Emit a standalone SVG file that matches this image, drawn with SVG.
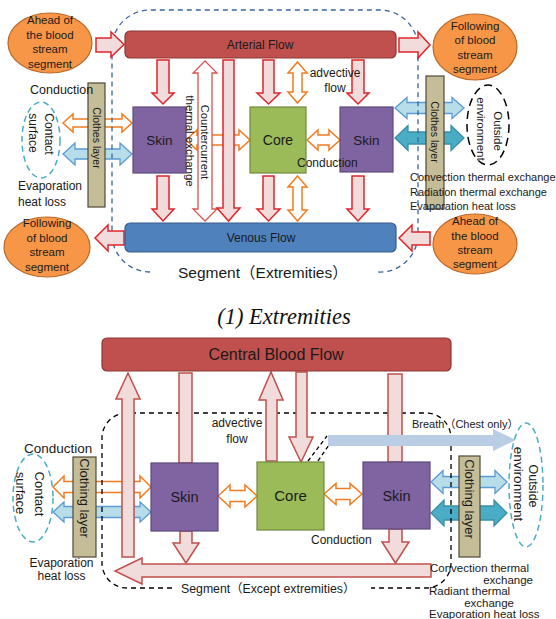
<svg xmlns="http://www.w3.org/2000/svg" width="556" height="619" viewBox="0 0 556 619">
<style>
.pk{fill:#f2dcdb;stroke:#e0242b;stroke-width:1.5}
.pk2{fill:#f2dcdb;stroke:#c0504d;stroke-width:1.5}
.or{fill:#fff;stroke:#f47c20;stroke-width:1.5}
.lb{fill:#b7dee8;stroke:#5b9bd5;stroke-width:1.3}
.tl{fill:#4bacc6;stroke:#3a8fa8;stroke-width:1.3}
.el{fill:#f79646;stroke:#b9692a;stroke-width:1.2}
.red{fill:#c0504d;stroke:#8c3836;stroke-width:1.2}
.blu{fill:#4f81bd;stroke:#385d8a;stroke-width:1.2}
.skin{fill:#8064a2;stroke:#5c4a7a;stroke-width:1.2}
.core{fill:#9bbb59;stroke:#71893f;stroke-width:1.2}
.cl{fill:#c4bd97;stroke:#4f4a38;stroke-width:1.2}
.t{font-family:"Liberation Sans",Arial,"Noto Sans CJK SC",sans-serif;fill:#1a1a1a}
.m{text-anchor:middle}
.e{text-anchor:end}
.r{text-anchor:middle;dominant-baseline:central}
</style>
<g id="connectors">
  <polygon class="or" points="63,123 73,114 73,119 122,119 122,114 132,123 122,132 122,127 73,127 73,132"/>
  <polygon class="lb" points="63,154 75,143 75,149 120,149 120,143 132,154 120,165 120,159 75,159 75,165"/>
  <polygon class="or" points="186,140 197,130 197,135 239,135 239,130 250,140 239,150 239,145 197,145 197,150"/>
  <polygon class="or" points="307,140 318,130 318,135 329,135 329,130 340,140 329,150 329,145 318,145 318,150"/>
  <polygon class="lb" points="395,108 407,97.5 407,102.5 452,102.5 452,97.5 464,108 452,118.5 452,113.5 407,113.5 407,118.5"/>
  <polygon class="tl" points="395,138 408,125.5 408,132 451,132 451,125.5 464,138 451,150.5 451,144 408,144 408,150.5"/>
  <polygon class="or" points="53,487 64,476 64,481.5 140,481.5 140,476 151,487 140,498 140,492.5 64,492.5 64,498"/>
  <polygon class="lb" points="53,512 64,502 64,506.5 140,506.5 140,502 151,512 140,522 140,517.5 64,517.5 64,522"/>
  <polygon class="or" points="218,496 230,485 230,490.5 245,490.5 245,485 257,496 245,507 245,501.5 230,501.5 230,507"/>
  <polygon class="or" points="324,494 336,483.5 336,488.5 350,488.5 350,483.5 362,494 350,504.5 350,499.5 336,499.5 336,504.5"/>
  <polygon class="lb" points="431,482 443,470.5 443,476.5 495,476.5 495,470.5 507,482 495,493.5 495,487.5 443,487.5 443,493.5"/>
  <polygon class="tl" points="431,513 444,500 444,506 494,506 494,500 507,513 494,526 494,520 444,520 444,526"/>
  <path d="M150,272 A38,38 0 0 1 112,234 L112,48 A38,38 0 0 1 150,10 L380,10 A38,38 0 0 1 418,48 L418,234 A38,38 0 0 1 378,272" fill="none" stroke="#3a64a0" stroke-width="1.3" stroke-dasharray="5 4"/>
  <path d="M172,588 L127,588 A25,25 0 0 1 102,563 L102,438 A25,25 0 0 1 127,413 L426,413 A25,25 0 0 1 451,438 L451,563 A25,25 0 0 1 426,588 L371,588" fill="none" stroke="#000" stroke-width="1.3" stroke-dasharray="5 4"/>
  <line x1="308" y1="461" x2="327" y2="436" stroke="#000" stroke-width="1.3" stroke-dasharray="4 3"/>
  <line x1="318" y1="461" x2="331" y2="442" stroke="#000" stroke-width="1.3" stroke-dasharray="4 3"/>
  <polygon class="pk" points="96,38 111,38 111,32 124,44.5 111,57 111,52 96,52"/>
  <polygon class="pk" points="399,38 418,38 418,32 430,45 418,58 418,52 399,52"/>
  <polygon class="pk" points="124,231 108,231 108,225 95,238 108,251 108,245 124,245"/>
  <polygon class="pk" points="430,232 412,232 412,225 399,238 412,251 412,245 430,245"/>
  <polygon class="pk" points="157,60 169,60 169,93 174,93 163,104 152,93 157,93"/>
  <polygon class="pk" points="263,60 274,60 274,93 280,93 268.5,104 257,93 263,93"/>
  <polygon class="pk" points="352,60 364,60 364,93 369,93 358,104 347,93 352,93"/>
  <polygon class="pk" points="157,176 169,176 169,209 174,209 163,221 152,209 157,209"/>
  <polygon class="pk" points="263,176 274,176 274,209 280,209 268.5,221 257,209 263,209"/>
  <polygon class="pk" points="352,176 364,176 364,209 369,209 358,221 347,209 352,209"/>
  <polygon points="205,61 217,73 212,73 212,209 217,209 205,221 193,209 198,209 198,73 193,73" fill="#fff" stroke="#d9534f" stroke-width="1.3"/>
  <polygon class="pk" points="223,60 234,60 234,208 240,208 228.5,221 217,208 223,208"/>
  <polygon class="or" points="297.5,62 307,73 302,73 302,92 307,92 297.5,103 288,92 293,92 293,73 288,73"/>
  <polygon class="or" points="297.5,176 307,187 302,187 302,210 307,210 297.5,221 288,210 293,210 293,187 288,187"/>
  <polygon class="pk2" points="122,557 134,557 134,399 140,399 128,373 116,399 122,399"/>
  <rect class="pk2" x="179" y="373" width="13" height="90"/>
  <polygon class="pk2" points="180,531 192,531 192,543 199,543 186,563 173,543 180,543"/>
  <polygon class="pk2" points="266,461 277,461 277,400 283,400 271,372 259,400 266,400"/>
  <polygon class="pk2" points="296,372 307,372 307,437 313,437 301,462 289,437 296,437"/>
  <rect class="pk2" x="388" y="374" width="14" height="88"/>
  <polygon class="pk2" points="389,529 402,529 402,542 409,542 395.5,563 382,542 389,542"/>
  <polygon class="pk2" points="431,564 142,564 142,558 115,571 142,584 142,577 431,577"/>
  <polygon points="328,435 493,435 493,429 516,440 493,451 493,446 328,446" fill="#b9cde5"/>
</g>
<g id="ellipse-ahead-top">
  <ellipse class="el" cx="50" cy="43" rx="42" ry="30"/>
  <text class="t m" font-size="11.5" x="50" y="24">Ahead of</text>
  <text class="t m" font-size="11.5" x="50" y="39">the blood</text>
  <text class="t m" font-size="11.5" x="50" y="53">stream</text>
  <text class="t m" font-size="11.5" x="50" y="68">segment</text>
</g>
<g id="ellipse-following-top">
  <ellipse class="el" cx="475" cy="47" rx="42" ry="33"/>
  <text class="t m" font-size="11.5" x="475" y="30">Following</text>
  <text class="t m" font-size="11.5" x="475" y="44">of blood</text>
  <text class="t m" font-size="11.5" x="475" y="59">stream</text>
  <text class="t m" font-size="11.5" x="475" y="73">segment</text>
</g>
<g id="ellipse-following-bottom">
  <ellipse class="el" cx="47" cy="247" rx="43" ry="30"/>
  <text class="t m" font-size="11.5" x="47" y="227">Following</text>
  <text class="t m" font-size="11.5" x="47" y="242">of blood</text>
  <text class="t m" font-size="11.5" x="47" y="256">stream</text>
  <text class="t m" font-size="11.5" x="47" y="271">segment</text>
</g>
<g id="ellipse-ahead-bottom">
  <ellipse class="el" cx="475" cy="244" rx="42" ry="30"/>
  <text class="t m" font-size="11.5" x="475" y="225">Ahead of</text>
  <text class="t m" font-size="11.5" x="475" y="240">the blood</text>
  <text class="t m" font-size="11.5" x="475" y="254">stream</text>
  <text class="t m" font-size="11.5" x="475" y="268">segment</text>
</g>
<g id="arterial">
  <rect class="red" x="125" y="31" width="271" height="27" rx="5"/>
  <text class="t m" font-size="12" x="260" y="48.5">Arterial Flow</text>
</g>
<g id="venous">
  <rect class="blu" x="125" y="223" width="271" height="29" rx="5"/>
  <text class="t m" font-size="12" x="261" y="241.7">Venous Flow</text>
</g>
<g id="skin-top-left">
  <rect class="skin" x="133" y="107" width="53" height="66"/>
  <text class="t m" font-size="13.5" x="159.5" y="145">Skin</text>
</g>
<g id="core-top">
  <rect class="core" x="250" y="107" width="56" height="66"/>
  <text class="t m" font-size="14" x="278" y="145">Core</text>
</g>
<g id="skin-top-right">
  <rect class="skin" x="340" y="107" width="53" height="65"/>
  <text class="t m" font-size="13.5" x="366.5" y="145">Skin</text>
</g>
<g id="clothes-top-left">
  <rect class="cl" x="88" y="83" width="17" height="124"/>
  <text class="t r" font-size="10.5" transform="translate(96.5,138) rotate(90)">Clothes layer</text>
</g>
<g id="clothes-top-right">
  <rect class="cl" x="426" y="76" width="18" height="133"/>
  <text class="t r" font-size="10.5" transform="translate(435,132) rotate(90)">Clothes layer</text>
</g>
<g id="contact-top">
  <ellipse cx="41" cy="140" rx="19" ry="38" fill="none" stroke="#4bacc6" stroke-width="1.5" stroke-dasharray="6 4"/>
  <text class="t r" font-size="12" transform="translate(49,134) rotate(90)">Contact</text>
  <text class="t r" font-size="12" transform="translate(33,133) rotate(90)">surface</text>
</g>
<g id="outside-top">
  <ellipse cx="488" cy="125" rx="21" ry="40" fill="none" stroke="#000" stroke-width="1.5" stroke-dasharray="8 5"/>
  <text class="t r" font-size="11.5" transform="translate(498,131) rotate(90)">Outside</text>
  <text class="t r" font-size="11.5" transform="translate(481,129) rotate(90)">environment</text>
</g>
<g id="labels-top">
  <text class="t" font-size="12.5" x="30" y="93.5">Conduction</text>
  <text class="t" font-size="12" x="18" y="190">Evaporation</text>
  <text class="t" font-size="12" x="18" y="206">heat loss</text>
  <text class="t m" font-size="12" x="335" y="77">advective</text>
  <text class="t m" font-size="12" x="335" y="92">flow</text>
  <text class="t" font-size="12" x="297" y="167">Conduction</text>
  <text class="t" font-size="11" x="410" y="181">Convection thermal exchange</text>
  <text class="t" font-size="11" x="410" y="196">Radiation thermal exchange</text>
  <text class="t" font-size="11" x="410" y="210">Evaporation heat loss</text>
  <text class="t r" font-size="11.2" transform="translate(205,142) rotate(90)">Countercurrent</text>
  <text class="t r" font-size="11.5" transform="translate(190,141) rotate(90)">thermal exchange</text>
  <text class="t" font-size="15.5" x="178" y="277.5">Segment（Extremities）</text>
</g>
<text x="284" y="324" font-family="Liberation Serif,'Times New Roman',serif" font-style="italic" font-size="22.5" text-anchor="middle" fill="#111">(1) Extremities</text>
<g id="central">
  <rect class="red" x="102" y="338" width="349" height="33" rx="5"/>
  <text class="t m" font-size="16" x="276" y="359.5">Central Blood Flow</text>
</g>
<g id="skin-bottom-left">
  <rect class="skin" x="151" y="463" width="67" height="68"/>
  <text class="t m" font-size="14.5" x="184.5" y="502">Skin</text>
</g>
<g id="core-bottom">
  <rect class="core" x="257" y="462" width="67" height="68"/>
  <text class="t m" font-size="15" x="290.5" y="501">Core</text>
</g>
<g id="skin-bottom-right">
  <rect class="skin" x="363" y="462" width="67" height="67"/>
  <text class="t m" font-size="14.5" x="396.5" y="501">Skin</text>
</g>
<g id="clothing-bottom-left">
  <rect class="cl" x="73" y="457" width="23" height="100"/>
  <text class="t r" font-size="13" transform="translate(84.5,498) rotate(90)">Clothing layer</text>
</g>
<g id="clothing-bottom-right">
  <rect class="cl" x="459" y="456" width="21" height="101"/>
  <text class="t r" font-size="13" transform="translate(469.5,499) rotate(90)">Clothing layer</text>
</g>
<g id="contact-bottom">
  <ellipse cx="33" cy="498" rx="20" ry="44" fill="none" stroke="#4bacc6" stroke-width="1.5" stroke-dasharray="6 4"/>
  <text class="t r" font-size="13" transform="translate(39,494) rotate(90)">Contact</text>
  <text class="t r" font-size="13" transform="translate(20,493) rotate(90)">surface</text>
</g>
<g id="outside-bottom">
  <ellipse cx="526" cy="485" rx="17" ry="62" fill="none" stroke="#4bacc6" stroke-width="1.5" stroke-dasharray="6 4"/>
  <text class="t r" font-size="12.5" transform="translate(533,486) rotate(90)">Outside</text>
  <text class="t r" font-size="13.5" transform="translate(518,484) rotate(90)">environment</text>
</g>
<g id="labels-bottom">
  <text class="t m" font-size="12" x="237" y="427">advective</text>
  <text class="t m" font-size="12" x="237" y="443">flow</text>
  <text class="t" font-size="11" x="412" y="428">Breath（Chest only）</text>
  <text class="t" font-size="13.5" x="24" y="452.5">Conduction</text>
  <text class="t" font-size="12" x="311" y="544">Conduction</text>
  <text class="t m" font-size="12" x="61.5" y="566.5">Evaporation</text>
  <text class="t m" font-size="12" x="61.5" y="579.5">heat loss</text>
  <text class="t" font-size="11.5" x="430" y="572">Convection thermal</text>
  <text class="t e" font-size="11.5" x="533" y="583.5">exchange</text>
  <text class="t" font-size="11.5" x="429" y="595">Radiant thermal</text>
  <text class="t e" font-size="11.5" x="514" y="606.5">exchange</text>
  <text class="t" font-size="11.5" x="429" y="617.5">Evaporation heat loss</text>
  <text class="t" font-size="12.3" x="181" y="593">Segment（Except  extremities）</text>
</g>
</svg>
